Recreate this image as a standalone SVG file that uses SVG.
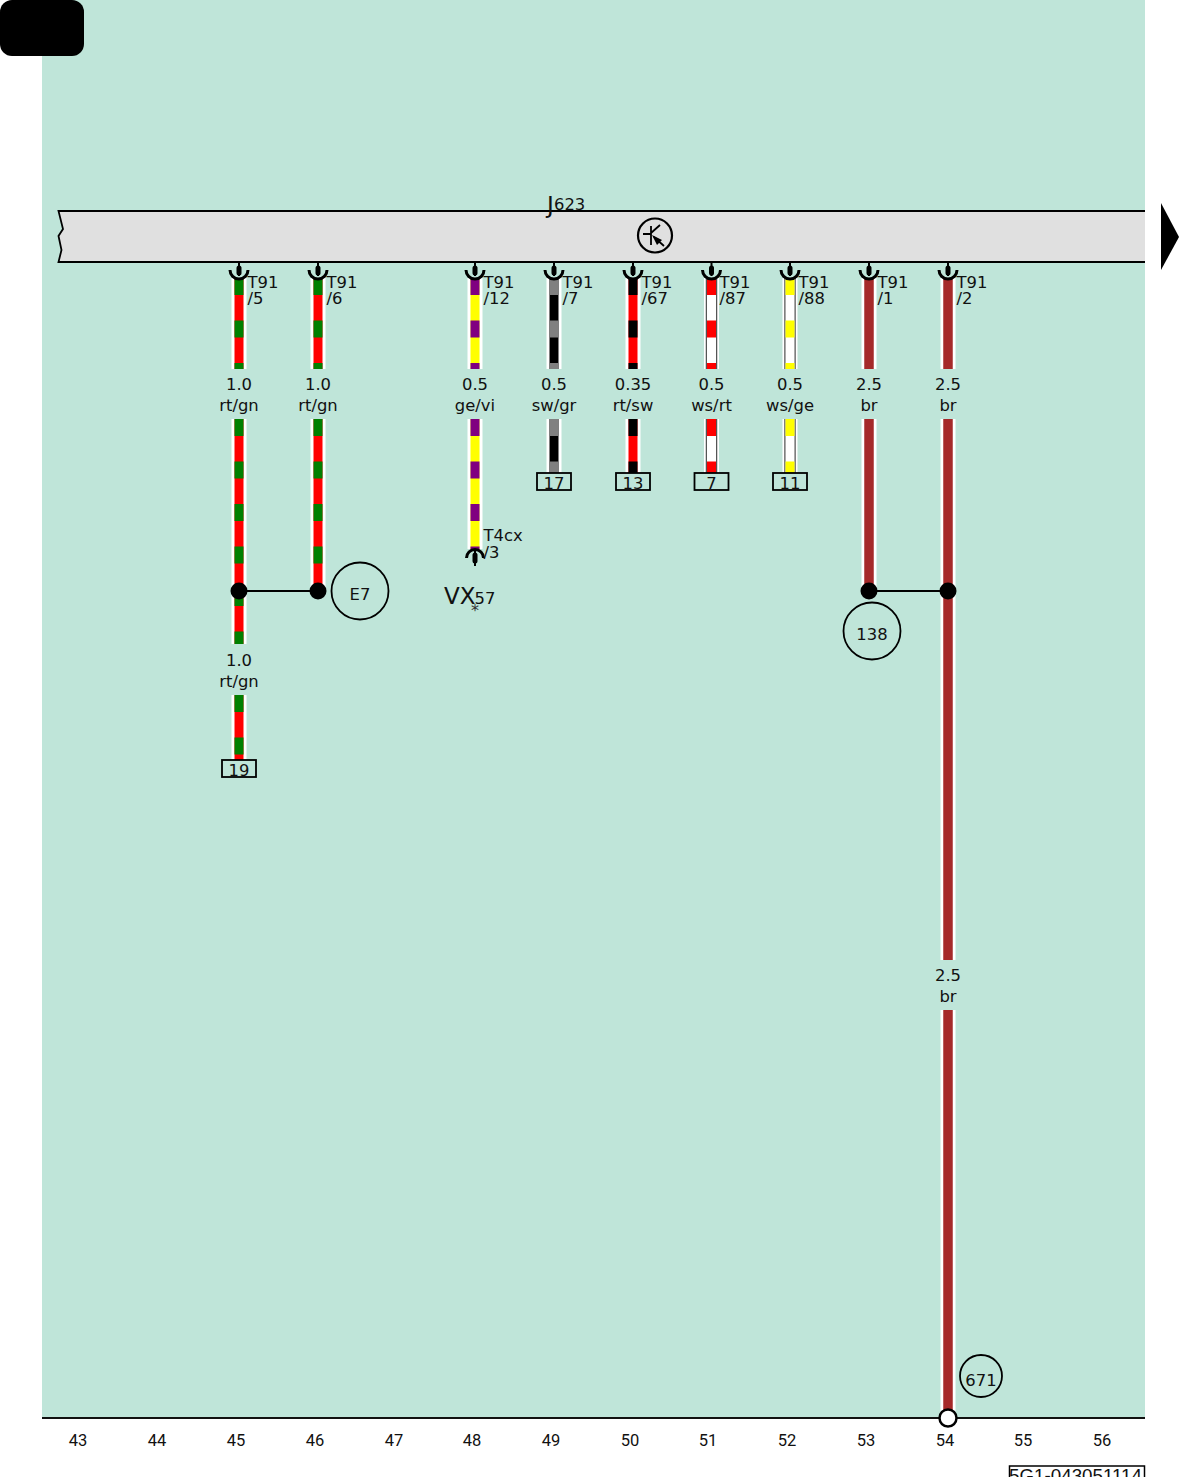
<svg xmlns="http://www.w3.org/2000/svg" width="1181" height="1477" viewBox="0 0 1181 1477">
<defs>
<style>
text{font-family:"DejaVu Sans",sans-serif;font-size:16.400px;fill:#111}
.m{text-anchor:middle}
.tick{font-family:Roboto,sans-serif;font-size:16.500px}
.ln{fill:none;stroke:#000;stroke-width:1.800}
.case{stroke:#fff;stroke-width:15}
.edge{stroke:#555;stroke-width:11.500}
.w{stroke-width:9}
.d{stroke-width:9;stroke-dasharray:17 25.5}
.wh{stroke:#fff}.gn{stroke:#008000}.rd{stroke:#f00}.vi{stroke:#800080}.ye{stroke:#ff0}.gr{stroke:#808080}.bk{stroke:#000}.br{stroke:#a52a2a;stroke-width:9.500}
.cup{fill:none;stroke:#000;stroke-width:3}
.stem{stroke:#000;stroke-width:2}
.bulb{stroke:#000;stroke-width:5;stroke-linecap:round}
.dot{fill:#000}
</style>
<g id="pin"><path class="stem" d="M0 262V276"/><path class="bulb" d="M0 268V273"/><path class="cup" d="M-9 270A9 9 0 0 0 9 270"/></g>
</defs>
<rect x="42" y="0" width="1103" height="1418" fill="#bfe5d9"/>
<rect id="badge" x="0" y="0" width="84" height="56" rx="12" fill="#000"/>
<g id="connectors">
<path class="case" d="M239 278V369M239 419V644M239 695V760"/>
<path class="w rd" d="M239 278V369M239 419V644M239 695V760"/>
<path class="d gn" d="M239 278V369M239 419V644M239 695V760"/>
<path class="case" d="M318 278V369M318 419V591"/>
<path class="w rd" d="M318 278V369M318 419V591"/>
<path class="d gn" d="M318 278V369M318 419V591"/>
<path class="case" d="M475 278V369M475 419V549"/>
<path class="w ye" d="M475 278V369M475 419V549"/>
<path class="d vi" d="M475 278V369M475 419V549"/>
<path class="case" d="M554 278V369M554 419V473"/>
<path class="w bk" d="M554 278V369M554 419V473"/>
<path class="d gr" d="M554 278V369M554 419V473"/>
<path class="case" d="M633 278V369M633 419V473"/>
<path class="w rd" d="M633 278V369M633 419V473"/>
<path class="d bk" d="M633 278V369M633 419V473"/>
<path class="case" d="M711.500 278V369M711.500 419V473"/>
<path class="edge" d="M711.500 278V369M711.500 419V473"/>
<path class="w wh" d="M711.500 278V369M711.500 419V473"/>
<path class="d rd" d="M711.500 278V369M711.500 419V473"/>
<path class="case" d="M790 278V369M790 419V473"/>
<path class="edge" d="M790 278V369M790 419V473"/>
<path class="w wh" d="M790 278V369M790 419V473"/>
<path class="d ye" d="M790 278V369M790 419V473"/>
<path class="case" d="M869 278V369M869 419V591"/>
<path class="br" d="M869 278V369M869 419V591"/>
<path class="case" d="M948 278V369M948 419V960M948 1010V1418"/>
<path class="br" d="M948 278V369M948 419V960M948 1010V1418"/>
<path class="ln" d="M239 591H318M869 591H948"/>
<circle class="dot" cx="239" cy="591" r="8.500"/>
<circle class="dot" cx="318" cy="591" r="8.500"/>
<circle class="dot" cx="869" cy="591" r="8.500"/>
<circle class="dot" cx="948" cy="591" r="8.500"/>
<g class="m">
<text x="239" y="389.500">1.0</text><text x="239" y="410.500">rt/gn</text>
<text x="318" y="389.500">1.0</text><text x="318" y="410.500">rt/gn</text>
<text x="475" y="389.500">0.5</text><text x="475" y="410.500">ge/vi</text>
<text x="554" y="389.500">0.5</text><text x="554" y="410.500">sw/gr</text>
<text x="633" y="389.500">0.35</text><text x="633" y="410.500">rt/sw</text>
<text x="711.500" y="389.500">0.5</text><text x="711.500" y="410.500">ws/rt</text>
<text x="790" y="389.500">0.5</text><text x="790" y="410.500">ws/ge</text>
<text x="869" y="389.500">2.5</text><text x="869" y="410.500">br</text>
<text x="948" y="389.500">2.5</text><text x="948" y="410.500">br</text>
<text x="239" y="665.500">1.0</text><text x="239" y="686.500">rt/gn</text>
<text x="948" y="980.500">2.5</text><text x="948" y="1001.500">br</text>
</g>
</g>
<g id="J623">
<path d="M58.500 211H1145V262H58.500L61.500 250 58.500 236 63 229Z" fill="#e0e0e0"/>
<path class="ln" d="M1145 211H58.500L63 229 58.500 236 61.500 250 58.500 262H1145"/>
<text x="547" y="213" style="font-size:23px">J</text><text x="554" y="209.500">623</text>
<circle cx="655" cy="235.500" r="17" fill="none" stroke="#000" stroke-width="2.200"/>
<path class="ln" d="M651 226V245M643 234H651M651 233L660 225M654 237L664 246"/>
<path d="M652 235L662 240 657 245Z" fill="#000"/>
</g>
<path id="next" d="M1161 203L1179 237 1161 270Z" fill="#000"/>
<g id="pins">
<use href="#pin" x="239"/><use href="#pin" x="318"/><use href="#pin" x="475"/><use href="#pin" x="554"/><use href="#pin" x="633"/><use href="#pin" x="711.500"/><use href="#pin" x="790"/><use href="#pin" x="869"/><use href="#pin" x="948"/>
<text x="247.500" y="287.500">T91</text><text x="247.500" y="303.500">/5</text>
<text x="326.500" y="287.500">T91</text><text x="326.500" y="303.500">/6</text>
<text x="483.500" y="287.500">T91</text><text x="483.500" y="303.500">/12</text>
<text x="562.500" y="287.500">T91</text><text x="562.500" y="303.500">/7</text>
<text x="641.500" y="287.500">T91</text><text x="641.500" y="303.500">/67</text>
<text x="719.500" y="287.500">T91</text><text x="719.500" y="303.500">/87</text>
<text x="798.500" y="287.500">T91</text><text x="798.500" y="303.500">/88</text>
<text x="877.500" y="287.500">T91</text><text x="877.500" y="303.500">/1</text>
<text x="956.500" y="287.500">T91</text><text x="956.500" y="303.500">/2</text>
</g>
<g id="T4cx">
<path class="cup" d="M466.500 558A8.500 8.500 0 0 1 483.500 558"/>
<path class="stem" d="M475 550V566"/><path class="bulb" d="M475 555V561"/>
<text x="483.500" y="540.500">T4cx</text><text x="483.500" y="557.500">/3</text>
</g>
<g id="VX57">
<text x="444" y="604" style="font-size:23px">VX</text><text x="474.500" y="603.500">57</text>
<text class="m" x="475" y="616" style="font-size:16px;fill:#333">*</text>
</g>
<g id="E7"><circle cx="360" cy="591" r="28.500" class="ln"/><text class="m" x="360" y="600">E7</text></g>
<g id="n138"><circle cx="872" cy="631" r="28.500" class="ln"/><text class="m" x="872" y="640">138</text></g>
<g id="n671"><circle cx="981" cy="1376" r="21" class="ln"/><text class="m" x="981" y="1386">671</text></g>
<g id="b19"><rect x="222" y="760" width="34" height="17" class="ln"/><text class="m" x="239" y="776">19</text></g>
<g id="b17"><rect x="537" y="473" width="34" height="17" class="ln"/><text class="m" x="554" y="489">17</text></g>
<g id="b13"><rect x="616" y="473" width="34" height="17" class="ln"/><text class="m" x="633" y="489">13</text></g>
<g id="b7"><rect x="694.500" y="473" width="34" height="17" class="ln"/><text class="m" x="711.500" y="489">7</text></g>
<g id="b11"><rect x="773" y="473" width="34" height="17" class="ln"/><text class="m" x="790" y="489">11</text></g>
<g id="frame">
<path d="M42 1418H1145" stroke="#111" stroke-width="2"/>
<circle cx="948" cy="1418" r="8.500" fill="#fff" stroke="#000" stroke-width="2.500"/>
<g class="m">
<text class="tick" x="78" y="1446">43</text><text class="tick" x="157" y="1446">44</text><text class="tick" x="236" y="1446">45</text><text class="tick" x="315" y="1446">46</text><text class="tick" x="394" y="1446">47</text><text class="tick" x="472" y="1446">48</text><text class="tick" x="551" y="1446">49</text><text class="tick" x="630" y="1446">50</text><text class="tick" x="708" y="1446">51</text><text class="tick" x="787" y="1446">52</text><text class="tick" x="866" y="1446">53</text><text class="tick" x="945" y="1446">54</text><text class="tick" x="1023" y="1446">55</text><text class="tick" x="1102" y="1446">56</text>
</g>
<rect x="1009.500" y="1466" width="135" height="14" fill="none" stroke="#000" stroke-width="1.500"/>
<text x="1009" y="1482" style="font-family:'Liberation Sans',sans-serif;font-size:18.800px">5G1-043051114</text>
</g>
</svg>
